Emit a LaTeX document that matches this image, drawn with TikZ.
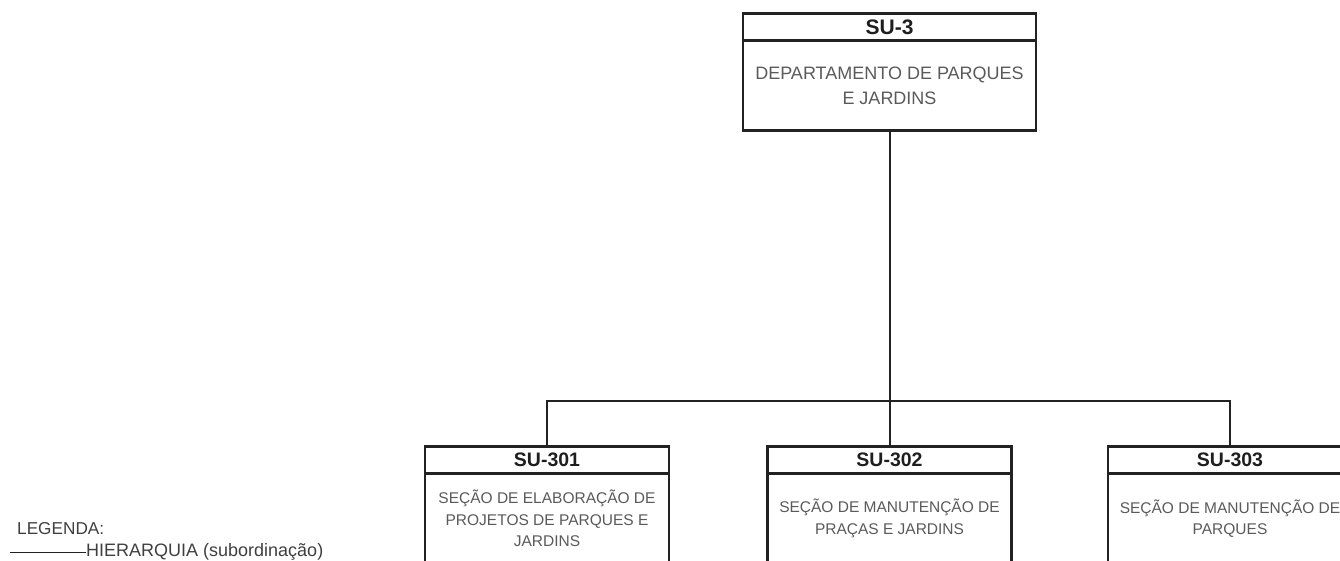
\documentclass[tikz,border=0pt]{standalone}
\usepackage{fontspec}
\setmainfont{Liberation Sans}
\definecolor{linec}{HTML}{222222}
\definecolor{bodyc}{HTML}{5A5A5A}
\definecolor{hdrc}{HTML}{1E1E1E}
\begin{document}
\begin{tikzpicture}[x=1pt,y=-1pt,
  hdr/.style={draw=linec, line width=2.2pt, rectangle, inner sep=0pt, outer sep=0pt, minimum height=27pt,
     font=\fontsize{19.5}{21}\selectfont\bfseries, text=hdrc},
  bodybox/.style={draw=linec, line width=2.2pt, rectangle, inner sep=0pt, outer sep=0pt, minimum height=90pt,
     align=center, font=\fontsize{15.5}{21.5}\selectfont, text=bodyc},
  conn/.style={draw=linec, line width=2pt},
  legtext/.style={anchor=west, inner sep=0pt, text=bodyc!70!black}]
\useasboundingbox (0,0) rectangle (1340,561);
\clip (0,0) rectangle (1340,561);
% top box
\node[hdr, minimum width=293pt, font=\fontsize{21}{23}\selectfont\bfseries] (h3) at (889.5,27) {SU-3};
\node[bodybox, minimum width=293pt, anchor=north, font=\fontsize{18}{25}\selectfont] (b3) at (h3.south) {DEPARTAMENTO DE PARQUES\\E JARDINS};
% bottom boxes
\node[hdr, minimum width=244pt] (h301) at (547,460) {SU-301};
\node[bodybox, minimum width=244pt, anchor=north] (b301) at (h301.south) {SEÇÃO DE ELABORAÇÃO DE\\PROJETOS DE PARQUES E\\JARDINS};
\node[hdr, minimum width=244pt] (h302) at (889.5,460) {SU-302};
\node[bodybox, minimum width=244pt, anchor=north] (b302) at (h302.south) {SEÇÃO DE MANUTENÇÃO DE\\PRAÇAS E JARDINS};
\node[hdr, minimum width=244pt] (h303) at (1230,460) {SU-303};
\node[bodybox, minimum width=244pt, anchor=north] (b303) at (h303.south) {SEÇÃO DE MANUTENÇÃO DE\\PARQUES};
% connectors
\coordinate (bus) at (889.5,401);
\draw[conn] (b3.south) -- (bus);
\draw[conn] (h301.north) |- (bus);
\draw[conn] (h303.north) |- (bus);
\draw[conn] (bus) -- (h302.north);
% legend
\node[legtext, font=\fontsize{17.2}{19}\selectfont] (leg) at (17,529) {LEGENDA:};
\node[legtext, font=\fontsize{18}{20}\selectfont] (hier) at (86,552) {HIERARQUIA (subordinação)};
\coordinate (legstart) at (10,552);
\draw[draw=linec, line width=1pt] (legstart) -- (hier.west);
\end{tikzpicture}
\end{document}
